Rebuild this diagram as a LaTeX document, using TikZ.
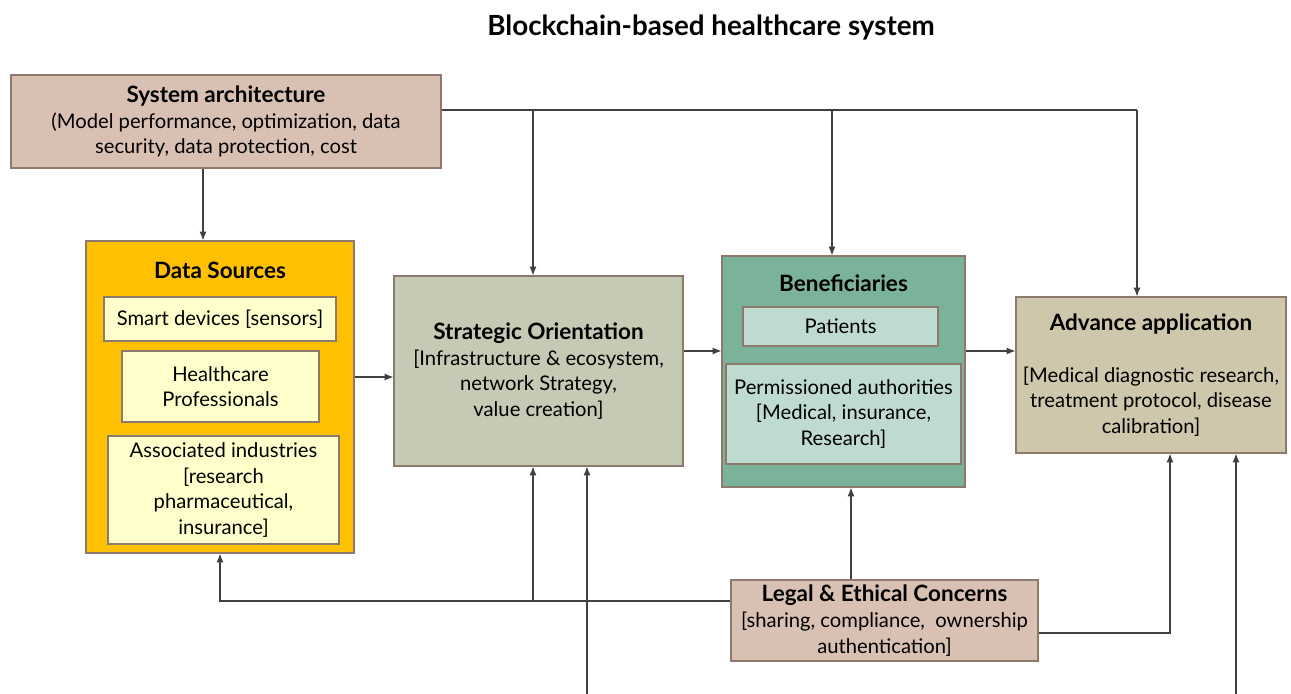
\documentclass[tikz,border=0pt]{standalone}
\usepackage{fontspec}
\setmainfont{Lato}
\usetikzlibrary{arrows.meta,positioning}
\definecolor{archfill}{HTML}{D8C0B3}
\definecolor{srcfill}{HTML}{FFC000}
\definecolor{srcin}{HTML}{FFFFCC}
\definecolor{stratfill}{HTML}{C4CAB3}
\definecolor{benfill}{HTML}{7BB39A}
\definecolor{benin}{HTML}{BFDACE}
\definecolor{advfill}{HTML}{CFC7AC}
\definecolor{boxline}{HTML}{8E7A6C}
\definecolor{wire}{HTML}{404040}
\tikzset{
  blk/.style={draw=boxline, line width=0.7pt, align=center, inner sep=2pt,
    font=\fontsize{11.5}{14.6}\selectfont},
  head/.style={font=\bfseries\fontsize{12.8}{15}\selectfont},
  conn/.style={draw=wire, line width=0.6pt},
  arr/.style={conn, -{Latex[length=5pt,width=4pt]}},
}
\begin{document}
\begin{tikzpicture}
\useasboundingbox (0,0) rectangle (25.82,-13.88);
\node[font=\bfseries\fontsize{15.8}{18}\selectfont] (title) at (14.22,-0.56) {Blockchain-based healthcare system};
% top box
\node[blk, fill=archfill, minimum width=8.6cm, minimum height=1.86cm] (sys) at (4.52,-2.43)
  {{\bfseries\fontsize{12.8}{15}\selectfont System architecture}\\(Model performance, optimization, data\\security, data protection, cost};
% data sources
\node[blk, fill=srcfill, minimum width=5.36cm, minimum height=6.24cm] (ds) at (4.4,-7.94) {};
\node[head] (dsT) at (4.4,-5.4) {Data Sources};
\node[blk, fill=srcin, minimum width=4.64cm, minimum height=0.88cm] (smart) at (4.4,-6.38) {Smart devices [sensors]};
\node[blk, fill=srcin, minimum width=3.94cm, minimum height=1.42cm] (hcp) at (4.41,-7.73) {Healthcare\\Professionals};
\node[blk, fill=srcin, minimum width=4.62cm, minimum height=2.16cm] (assoc) at (4.47,-9.8)
  {Associated industries\\{}[research\\pharmaceutical,\\insurance]};
% strategy
\node[blk, fill=stratfill, minimum width=5.78cm, minimum height=3.8cm] (strat) at (10.77,-7.42)
  {{\bfseries\fontsize{12.8}{15}\selectfont Strategic Orientation}\\{}[Infrastructure \& ecosystem,\\network Strategy,\\value creation]};
% beneficiaries
\node[blk, fill=benfill, minimum width=4.86cm, minimum height=4.62cm] (ben) at (16.87,-7.43) {};
\node[head] (benT) at (16.87,-5.66) {Beneficiaries};
\node[blk, fill=benin, minimum width=3.9cm, minimum height=0.78cm] (pat) at (16.81,-6.53) {Patients};
\node[blk, fill=benin, minimum width=4.7cm, minimum height=2cm] (perm) at (16.87,-8.28)
  {Permissioned authorities\\{}[Medical, insurance,\\Research]};
% application
\node[blk, fill=advfill, minimum width=5.4cm, minimum height=3.12cm] (adv) at (23.02,-7.5)
  {{\bfseries\fontsize{12.8}{15}\selectfont Advance application}\\[15pt]{}[Medical diagnostic research,\\treatment protocol, disease\\calibration]};
% legal
\node[blk, fill=archfill, minimum width=6.14cm, minimum height=1.62cm] (legal) at (17.69,-12.41)
  {{\bfseries\fontsize{12.8}{15}\selectfont Legal \& Ethical Concerns}\\{}[sharing, compliance,\ \ ownership\\authentication]};
% free ends at the bottom edge
\coordinate (inS) at (11.74,-13.88);
\coordinate (inA) at (24.72,-13.88);

\draw[arr] (sys.south -| 4.06,0) -- (ds.north -| 4.06,0);
\draw[conn] (sys.east |- 0,-2.2) -- (22.74,-2.2);
\draw[arr] (22.74,-2.2) -- (adv.north -| 22.74,0);
\draw[arr] (10.66,-2.2) -- (strat.north -| 10.66,0);
\draw[arr] (16.64,-2.2) -- (ben.north -| 16.64,0);
\draw[arr] (ds.east |- 0,-7.54) -- (strat.west |- 0,-7.54);
\draw[arr] (strat.east |- 0,-7.02) -- (ben.west |- 0,-7.02);
\draw[arr] (ben.east |- 0,-7.02) -- (adv.west |- 0,-7.02);
\draw[arr] (legal.west |- 0,-12.02) -| (ds.south -| 4.4,0);
\draw[arr] (10.66,-12.02) -- (strat.south -| 10.66,0);
\draw[arr] (legal.north -| 17.02,0) -- (ben.south -| 17.02,0);
\draw[arr] (legal.east |- 0,-12.66) -| (adv.south -| 23.4,0);
\draw[arr] (inS) -- (strat.south -| inS);
\draw[arr] (inA) -- (adv.south -| inA);
\end{tikzpicture}
\end{document}
